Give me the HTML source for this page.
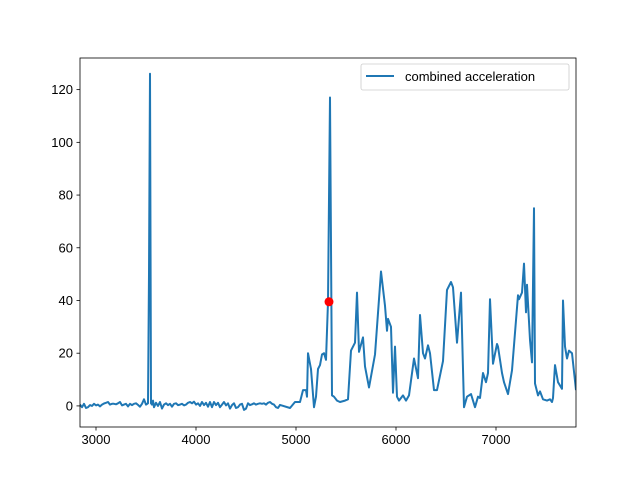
<!DOCTYPE html>
<html><head><meta charset="utf-8"><style>
html,body{margin:0;padding:0;background:#fff;}
svg{display:block;font-family:"Liberation Sans","DejaVu Sans",sans-serif;}
</style></head><body>
<svg id="chart" width="640" height="480"></svg>
<script>
const xs=[2840,2860,2880,2900,2920,2940,2960,2980,3000,3020,3040,3060,3080,3100,3120,3140,3160,3180,3200,3220,3240,3260,3280,3300,3320,3340,3360,3380,3400,3420,3440,3460,3480,3500,3520,3530,3540,3550,3560,3570,3580,3600,3620,3640,3660,3680,3700,3720,3740,3760,3780,3800,3820,3840,3860,3880,3900,3920,3940,3960,3980,4000,4020,4040,4060,4080,4100,4120,4140,4160,4180,4200,4220,4240,4260,4280,4300,4320,4340,4360,4380,4400,4420,4440,4460,4480,4500,4520,4540,4560,4580,4600,4620,4640,4660,4680,4700,4720,4740,4760,4780,4800,4820,4840,
4940,4990,5040,5070,5100,5110,5120,5150,5180,5200,5220,5240,5260,5280,5300,5320,5340,5360,5380,5410,5440,5490,5520,5550,5590,5610,5630,5670,5690,5720,5730,5790,5850,5890,5910,5920,5950,5970,5990,6010,6030,6070,6100,6130,6180,6220,6240,6270,6290,6320,6340,6380,6410,6470,6510,6550,6570,6610,6650,6680,6710,6750,6790,6820,6840,6870,6900,6920,6940,6970,7010,7020,7060,7080,7120,7160,7220,7230,7260,7280,7300,7310,7340,7360,7380,7390,7420,7440,7470,7510,7540,7560,7570,7590,7620,7660,7670,7690,7710,7730,7760,7800];
const ys=[0.5,-0.5,0.8,-0.8,-0.5,0.3,0,0.8,0.2,0.5,-0.2,0.5,0.9,1.2,1.5,0.5,0.8,0.8,0.6,1.0,1.5,0.2,0.5,0.8,-0.2,0.8,0.3,0.8,1.0,0.4,-0.3,0.8,2.5,0.5,1.0,50,126,1,0.5,2.0,-0.5,1.2,0,1.5,-1.0,0.5,1.0,0.3,0.8,-0.3,0.8,1.0,0.3,0.5,0.8,0.2,0.5,1.2,1.5,1.0,1.6,0.5,1.0,0.0,1.5,0.3,1.2,-0.3,1.5,-0.5,1.5,0.3,1.2,-0.5,0.5,1.5,0.2,1.0,-1.0,0.3,1.0,-0.8,-0.5,0.5,0.8,-1.5,-1.0,1.0,0.3,0.6,1.0,0.5,0.8,1.0,0.8,1.0,0.5,1.2,1.5,0.8,0.5,-0.5,-0.8,0.4,
-0.8,1.5,1.5,6,6,3.5,20,14,-0.5,3.5,14,15.5,19.5,20,17.5,39.5,117,4,3.5,2,1.5,2,2.5,21,24,43,20.5,26,15,9,7,19.5,51,38,28.5,33,30,5,22.5,3.5,2,4,2,4,18,10.5,34.5,20,18,23,20,6,6,17,44,47,45,24,43,-0.5,3.5,4.5,-0.5,3.5,3,12.5,9,12.5,40.5,16,23.5,22.5,12.5,9,4.5,13.5,42,40.5,43,54,35.5,46,25,16.5,75,8.5,4,5.5,2.5,2,2.5,1.5,3,15.5,9,6.5,40,22.5,18,21,20,6];
const highlightX=[5330], highlightY=[39.5];
const xTicks=[3000,4000,5000,6000,7000];
const yTicks=[0,20,40,60,80,100,120];

const L=80,R=576,T=58,B=427,x0=2840,x1=7800,y0=-8,y1=132;
const sx=v=>L+(v-x0)/(x1-x0)*(R-L);
const sy=v=>B-(v-y0)/(y1-y0)*(B-T);
const svg=document.getElementById('chart');
const NS='http://www.w3.org/2000/svg';
function mk(t,a){const e=document.createElementNS(NS,t);for(const k in a)e.setAttribute(k,a[k]);svg.appendChild(e);return e;}
const clip=document.createElementNS(NS,'clipPath');clip.setAttribute('id','c');
const cr=document.createElementNS(NS,'rect');cr.setAttribute('x',L);cr.setAttribute('y',T);cr.setAttribute('width',R-L);cr.setAttribute('height',B-T);clip.appendChild(cr);svg.appendChild(clip);
let d='';xs.forEach((x,i)=>{d+=(i?'L':'M')+sx(x).toFixed(1)+' '+sy(ys[i]).toFixed(1);});
const line=mk('path',{d:d,fill:'none',stroke:'#1f77b4','stroke-width':2,'clip-path':'url(#c)','stroke-linejoin':'round'});


highlightX.forEach((x,i)=>{const c=mk('circle',{cx:sx(x),cy:sy(highlightY[i]),r:4.5,fill:'#ff0000'});

});
const frame=mk('rect',{x:L,y:T,width:R-L,height:B-T,fill:'none',stroke:'#000','stroke-width':0.8});


xTicks.forEach(v=>{const p=sx(v);mk('line',{x1:p,x2:p,y1:B,y2:B+3.5,stroke:'#000','stroke-width':0.8});
const t=mk('text',{x:p,y:B+17,'text-anchor':'middle','font-size':'13px',fill:'#000'});t.textContent=v;

});
yTicks.forEach(v=>{const p=sy(v);mk('line',{x1:L-3.5,x2:L,y1:p,y2:p,stroke:'#000','stroke-width':0.8});
const t=mk('text',{x:L-7,y:p+4.5,'text-anchor':'end','font-size':'13px',fill:'#000'});t.textContent=v;

});
const lg=mk('rect',{x:361,y:64,width:208,height:26,rx:2,fill:'#fff','fill-opacity':0.8,stroke:'#ccc','stroke-width':0.8});


mk('line',{x1:366,x2:394,y1:76,y2:76,stroke:'#1f77b4','stroke-width':2});
const lt=mk('text',{x:405,y:81,'font-size':'13px',fill:'#000'});lt.textContent='combined acceleration';


</script>
</body></html>
